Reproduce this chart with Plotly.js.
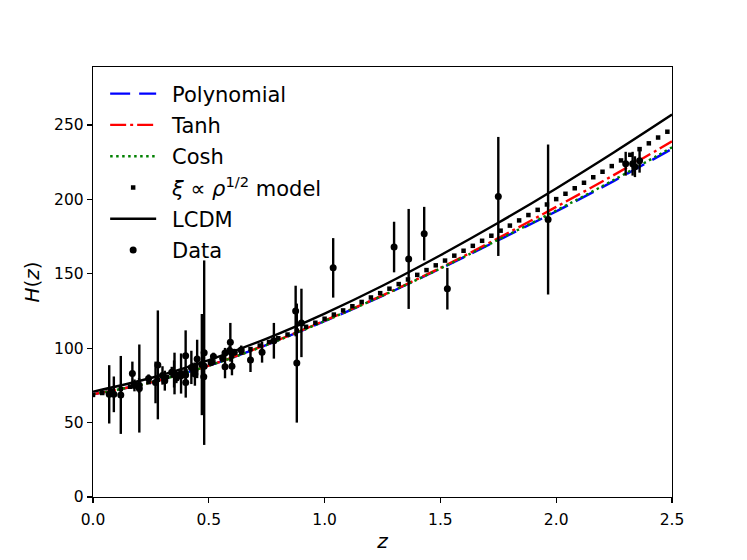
<!DOCTYPE html>
<html>
<head>
<meta charset="utf-8">
<script src="https://cdn.plot.ly/plotly-3.0.1.min.js"></script>
<style>
  html, body { margin: 0; padding: 0; background: #fff; }
  #chart { width: 747px; height: 560px; }
</style>
</head>
<body>
<div id="chart"></div>
<script>
// H(z) : modeles vs donnees

const zModel = [0, 0.25, 0.5, 0.75, 1.0, 1.25, 1.5, 1.75, 2.0, 2.25, 2.5];
const hPoly = [69, 77, 88.3, 102.3, 118.2, 135.2, 153.5, 172.6, 192, 212.5, 234];
const hTanh = [69, 77, 88.3, 102.5, 118.5, 135.5, 154, 174, 195, 216.5, 239];
const hCosh = [69, 77, 88.2, 102.2, 118.2, 135.3, 153.6, 172.9, 192.5, 213.2, 235];
const hLcdm = [70.8, 80, 92, 106.5, 123.3, 142, 162.5, 184.3, 207.4, 231.7, 257];

// xi ~ rho^1/2 : points tous les 0.04
const zSq = [0, 0.04, 0.08, 0.12, 0.16, 0.2, 0.24, 0.28, 0.32, 0.36, 0.4, 0.44, 0.48, 0.52,
  0.56, 0.6, 0.64, 0.68, 0.72, 0.76, 0.8, 0.84, 0.88, 0.92, 0.96, 1.0, 1.04, 1.08, 1.12,
  1.16, 1.2, 1.24, 1.28, 1.32, 1.36, 1.4, 1.44, 1.48, 1.52, 1.56, 1.6, 1.64, 1.68, 1.72,
  1.76, 1.8, 1.84, 1.88, 1.92, 1.96, 2.0, 2.04, 2.08, 2.12, 2.16, 2.2, 2.24, 2.28, 2.32,
  2.36, 2.4, 2.44, 2.48];
const hSq = [68.6, 69.9, 71.2, 72.6, 74.1, 75.6, 77.2, 78.9, 80.7, 82.5, 84.4, 86.4, 88.4,
  90.5, 92.6, 94.8, 97.1, 99.4, 101.8, 104.2, 106.7, 109.2, 111.8, 114.4, 117.1, 119.8,
  122.6, 125.4, 128.2, 131.1, 134.1, 137.0, 140.0, 143.1, 146.2, 149.3, 152.5, 155.7,
  158.9, 162.2, 165.5, 168.8, 172.2, 175.6, 179.0, 182.4, 185.9, 189.5, 193.0, 196.6,
  200.2, 203.8, 207.5, 211.2, 214.9, 218.6, 222.4, 226.2, 230.0, 233.8, 237.7, 241.6, 245.5];

// donnees H(z)
const zData = [0.07, 0.09, 0.12, 0.17, 0.179, 0.199, 0.2, 0.27, 0.28, 0.352, 0.3802, 0.4,
  0.4004, 0.4247, 0.4497, 0.47, 0.4783, 0.48, 0.593, 0.68, 0.781, 0.875, 0.88, 0.9, 1.037,
  1.3, 1.363, 1.43, 1.53, 1.75, 1.965, 0.24, 0.30, 0.31, 0.34, 0.35, 0.36, 0.38, 0.40,
  0.43, 0.44, 0.44, 0.48, 0.51, 0.52, 0.56, 0.57, 0.57, 0.59, 0.60, 0.61, 0.64, 0.73,
  2.30, 2.33, 2.34, 2.36];
const hData = [69, 69, 68.6, 83, 75, 75, 72.9, 77, 88.8, 83, 83, 95, 77, 87.1, 92.8, 89,
  80.9, 97, 104, 92, 105, 125, 90, 117, 154, 168, 160, 177, 140, 202, 186.5, 79.7, 81.7,
  78.2, 83.8, 82.7, 79.9, 81.5, 82.0, 86.5, 82.6, 84.8, 87.8, 90.4, 94.4, 93.3, 87.6, 96.8,
  98.5, 87.9, 97.3, 98.8, 97.3, 224, 224, 222, 226];
const eData = [19.6, 12, 26.2, 8, 4, 5, 29.6, 14, 36.6, 14, 13.5, 17, 10.2, 11.2, 12.9, 34,
  9, 62, 13, 8, 12, 17, 40, 23, 20, 17, 33.6, 18, 14, 40, 50.4, 2.7, 6.2, 6.7, 3.7, 9.1,
  3.4, 1.9, 2.0, 3.7, 7.8, 1.8, 2.0, 1.9, 2.6, 2.3, 7.8, 3.4, 3.2, 6.1, 2.1, 3.0, 7.0,
  8, 8, 7, 8];

const LW = 2.4;
const PAD = '\u00a0\u2009';   // ecart symbole / texte dans la legende

const traces = [
  {x: zModel, y: hPoly, name: PAD + 'Polynomial', mode: 'lines', legendgroup: 'a',
   line: {color: '#0000ff', width: LW, dash: '20px,9px', shape: 'spline'}},
  {x: zModel, y: hTanh, name: PAD + 'Tanh', mode: 'lines', legendgroup: 'b',
   line: {color: '#ff0000', width: LW, dash: '16px,4px,3px,4px', shape: 'spline'}},
  {x: zModel, y: hCosh, name: PAD + 'Cosh', mode: 'lines', legendgroup: 'c',
   line: {color: '#008000', width: LW, dash: '2.5px,3.5px', shape: 'spline'}},
  {x: zSq, y: hSq, name: PAD + '<i>ξ</i> ∝ <i>ρ</i><sup>1/2</sup> model', mode: 'markers', legendgroup: 'd',
   marker: {color: '#000', symbol: 'square', size: 4.5}},
  {x: zModel, y: hLcdm, name: PAD + 'LCDM', mode: 'lines', legendgroup: 'e',
   line: {color: '#000', width: LW, shape: 'spline'}},
  {x: zData, y: hData, name: PAD + 'Data', mode: 'markers', legendgroup: 'f',
   marker: {color: '#000', size: 7},
   error_y: {type: 'data', array: eData, visible: true, color: '#000', thickness: LW, width: 0}}
];

const axisBase = {
  showline: true, mirror: true, linecolor: '#000', linewidth: 1.2,
  ticks: 'outside', ticklen: 5, tickwidth: 1.2, tickcolor: '#000',
  showgrid: false, zeroline: false,
  tickfont: {size: 15.5, color: '#000'}
};

const layout = {
  width: 747, height: 560,
  margin: {l: 93, r: 75, t: 67, b: 63},
  paper_bgcolor: '#fff', plot_bgcolor: '#fff',
  font: {family: 'DejaVu Sans', color: '#000'},
  showlegend: true,
  legend: {
    x: 0.021, y: 0.985, xanchor: 'left', yanchor: 'top',
    bgcolor: 'rgba(255,255,255,0)', borderwidth: 0,
    font: {size: 21}, itemwidth: 46, tracegroupgap: 1
  },
  xaxis: Object.assign({}, axisBase, {
    range: [0, 2.5], tickvals: [0, 0.5, 1, 1.5, 2, 2.5], tickformat: '.1f',
    ticklabelstandoff: 3,
    title: {text: '<i>z</i>', font: {size: 20}, standoff: 6}
  }),
  yaxis: Object.assign({}, axisBase, {
    range: [0, 289], tickvals: [0, 50, 100, 150, 200, 250],
    title: {text: '<i>H</i>(<i>z</i>)', font: {size: 20}, standoff: 9}
  })
};

Plotly.newPlot('chart', traces, layout, {displayModeBar: false, staticPlot: true});
</script>
</body>
</html>
